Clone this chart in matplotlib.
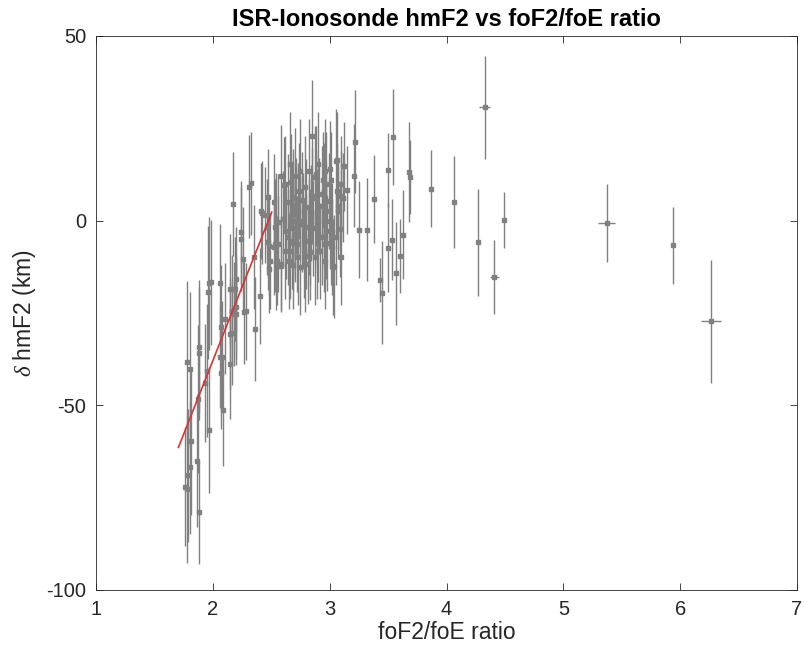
import matplotlib
matplotlib.use("Agg")
from matplotlib import pyplot as plt

plt.rcParams['font.family'] = ['Liberation Sans', 'DejaVu Sans']
plt.rcParams['axes.unicode_minus'] = False
plt.rcParams['mathtext.fontset'] = 'custom'
plt.rcParams['mathtext.it'] = 'Liberation Serif:italic'

# left arm, steep rise
x_arm = [1.76, 1.78, 1.79, 1.78, 1.81, 1.80, 1.805, 1.88, 1.88, 1.87, 1.86, 1.88,
         1.95, 1.936, 1.97, 1.97, 1.96, 1.98, 2.06, 2.07, 2.08, 2.07, 2.06, 2.09,
         2.10, 2.15, 2.16, 2.15, 2.15, 2.16, 2.20, 2.20, 2.20, 2.19, 2.18, 2.175,
         2.24, 2.24, 2.26, 2.27, 2.28, 2.31, 2.33, 2.35, 2.36, 2.40]
y_arm = [-72.0, -38.4, -69.0, -72.7, -59.6, -66.8, -40.2, -34.1, -35.9, -48.3, -65.0, -79.0,
         -40.6, -44.0, -56.7, -17.0, -19.4, -16.7, -17.0, -28.9, -36.8, -41.3, -36.8, -51.4,
         -26.6, -18.5, -24.4, -30.7, -38.8, -30.5, -23.5, -25.2, -15.8, -18.5, -25.3, 4.5,
         -3.2, -5.0, -10.4, -24.8, -24.6, 9.2, 10.1, -9.9, -29.3, -20.3]
e_arm = [16, 22, 18, 20, 20, 18, 21, 18, 18, 20, 18, 14,
         18, 16, 17, 18, 18, 17, 16, 17, 15, 15, 14, 15,
         15, 15, 15, 15, 15, 14, 14, 14, 14, 14, 14, 14,
         14, 14, 14, 14, 13, 14, 14, 14, 14, 13]

# main cluster around ratio 2.4 - 3.2
x_core = [2.42, 2.41, 2.45, 2.46, 2.475, 2.475, 2.48, 2.49, 2.48, 2.52, 2.53, 2.53,
          2.54, 2.55, 2.56, 2.56, 2.52, 2.54, 2.58, 2.61, 2.62, 2.67, 2.69, 2.68,
          2.63, 2.70, 2.66, 2.62, 2.73, 2.75, 2.79, 2.80, 2.82, 2.80, 2.83, 2.87,
          2.89, 2.90, 2.92, 2.87, 2.97, 2.99, 3.00, 2.97, 3.03, 3.05, 3.06, 3.07,
          3.09, 3.05, 2.75, 2.73, 2.76, 2.72, 2.85, 2.93, 2.95, 3.02, 2.96, 2.58,
          2.65, 2.79, 2.96, 3.10, 2.82, 2.90, 2.66, 3.10, 2.58, 2.85, 2.88, 3.04,
          3.12, 3.15, 3.10, 3.07, 3.00, 3.01, 2.95, 2.97, 3.02, 2.93, 2.89, 2.89,
          2.77, 2.83, 2.95, 3.01, 3.06, 3.11, 3.21, 3.22, 2.69, 2.71, 2.64, 2.60,
          2.68, 2.74, 2.78, 2.84, 2.86, 2.91, 2.94, 2.98, 2.70, 2.64, 2.76, 2.81,
          2.88, 2.69, 2.69, 2.69, 2.70]
y_core = [2.2, 2.7, 1.4, -1.8, 6.3, -5.9, -7.0, -10.8, -13.1, -7.2, -6.3, -1.8,
          -11.3, -10.8, -0.5, -6.3, 5.0, 0.0, 12.0, 9.7, 9.9, 10.4, 6.3, 1.8,
          -2.7, -3.6, -8.1, -8.1, -9.9, -12.6, 9.0, 3.6, -1.8, -5.4, -8.6, 11.7,
          0.9, -3.6, -8.1, -9.9, 9.9, 5.4, 0.0, -2.7, -12.6, 16.2, 8.1, 2.7,
          -2.3, -4.5, 13.5, 2.7, -0.9, -6.3, 6.8, 7.2, -6.3, -7.2, 13.5, -11.7,
          -10.8, -11.7, -10.8, -9.9, 13.5, 15.3, 15.3, 9.9, -12.2, 23.0, 12.5, -12.4,
          14.7, 8.3, 6.8, 4.0, 14.0, 11.0, 8.1, 2.7, -2.7, -4.5, -0.9, -8.1,
          0.0, -4.5, 0.0, -4.5, 16.5, 6.2, 12.2, 21.4, -12.0, 4.0, 5.0, 0.5,
          -5.5, 8.0, -8.0, 2.0, -2.0, 4.0, 11.0, -6.0, 12.0, -4.5, 5.5, -9.5,
          6.0, 3.0, -2.0, -6.0, 0.0]
e_core = [14, 13, 13, 13, 13, 13, 13, 13, 12, 13, 13, 13,
          13, 12, 13, 13, 13, 13, 14, 13, 13, 13, 13, 13,
          13, 13, 13, 13, 13, 13, 14, 13, 13, 13, 13, 14,
          13, 13, 13, 13, 14, 13, 13, 13, 13, 14, 13, 13,
          13, 13, 14, 13, 13, 13, 13, 13, 13, 13, 14, 13,
          13, 13, 13, 13, 14, 14, 14, 13, 12, 15, 13, 14,
          12, 12, 12, 12, 13, 13, 13, 13, 13, 13, 13, 13,
          13, 13, 13, 13, 13, 12, 14, 14, 12, 13, 13, 13,
          13, 13, 13, 13, 13, 13, 13, 13, 13, 13, 13, 13,
          13, 13, 13, 13, 13]

# sparse points at high ratio
x_tail = [3.25, 3.32, 3.38, 3.43, 3.45, 3.50, 3.50, 3.53, 3.54, 3.57, 3.60, 3.63,
          3.68, 3.69, 3.87, 4.06, 4.27, 4.325, 4.41, 4.49, 5.37, 5.94, 6.26]
y_tail = [-2.4, -2.4, 5.9, -16.0, -19.5, 13.8, -7.3, -5.2, 22.7, -14.3, -9.5, -3.8,
          13.1, 11.9, 8.6, 5.0, -5.9, 30.7, -15.2, 0.2, -0.7, -6.7, -27.3]
ye_tail = [13, 14, 12, 6, 14, 10, 12, 11, 13, 14, 10, 12,
           13.5, 10, 10.4, 12.5, 14.5, 14, 10, 7.5, 10.5, 10.4, 16.7]
xe_tail = [0, 0, 0, 0, 0, 0, 0, 0, 0, 0, 0, 0,
           0, 0, 0, 0, 0, 0.05, 0.04, 0, 0.075, 0, 0.085]

# linear fit over the low-ratio part
fit_x = [1.705, 2.504]
fit_y = [-61.4, 2.3]

fig = plt.figure(figsize=(8.05, 6.6), dpi=100)
ax = fig.add_axes([0.1193, 0.1061, 0.8708, 0.8394])

grey = (0.5, 0.5, 0.5)
for xs, ys, ye, xe in [(x_arm, y_arm, e_arm, None),
                       (x_core, y_core, e_core, None),
                       (x_tail, y_tail, ye_tail, xe_tail)]:
    ax.errorbar(xs, ys, yerr=ye, xerr=xe, fmt='s', ms=3, color=grey,
                ecolor=grey, elinewidth=1, capsize=0, zorder=2)

ax.plot(fit_x, fit_y, color=(0.85, 0.2, 0.2), lw=1.2, zorder=3)

ax.set_xlim(1, 7)
ax.set_ylim(-100, 50)
ax.set_xticks([1, 2, 3, 4, 5, 6, 7])
ax.set_yticks([-100, -50, 0, 50])
ax.tick_params(direction='in', top=True, right=True, length=5, width=0.6,
               labelsize=14.5, colors=(0.15, 0.15, 0.15), pad=7)
for s in ax.spines.values():
    s.set_linewidth(0.6)
    s.set_color((0.15, 0.15, 0.15))

ax.set_title("ISR-Ionosonde hmF2 vs foF2/foE ratio", fontsize=17,
             fontweight='bold', pad=7)
ax.set_xlabel("foF2/foE ratio", fontsize=16.5, color=(0.15, 0.15, 0.15), labelpad=2)
ax.set_ylabel(r"$\delta$ hmF2 (km)", fontsize=16.5, color=(0.15, 0.15, 0.15), labelpad=6)

plt.savefig("out.png", dpi=100)
